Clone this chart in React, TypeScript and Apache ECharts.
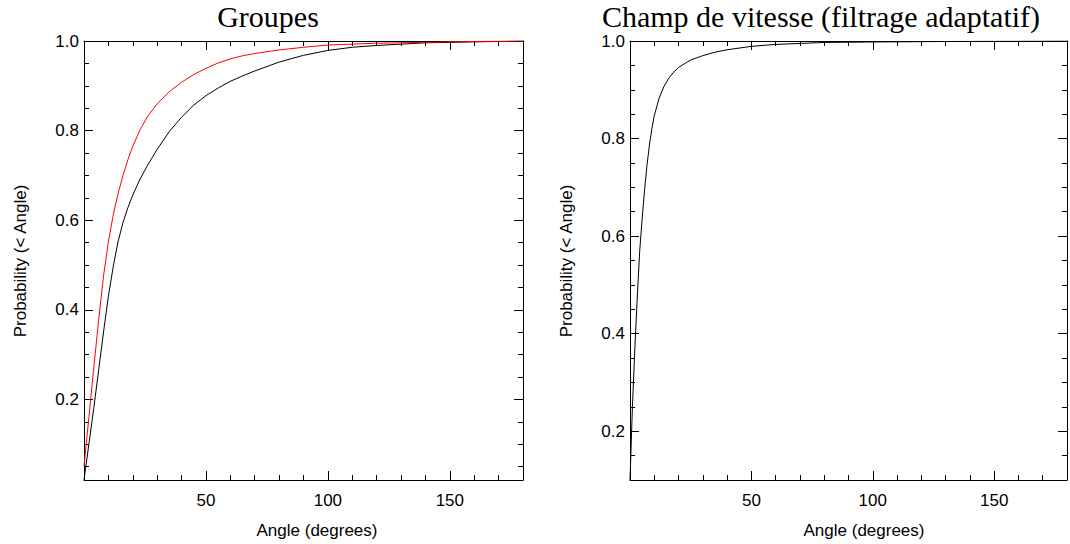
import React, { useEffect, useRef } from "react";
import * as echarts from "echarts";

// ---- data ----
const groupAngles = [0, 2, 4, 6, 8, 10, 12, 14, 16, 18, 20, 23, 26, 30, 35, 40, 45, 50, 55, 60, 65, 70, 80, 90, 100, 110, 120, 130, 140, 150, 160, 170, 180];
const groupBlack = [0.02, 0.1, 0.18, 0.265, 0.35, 0.43, 0.497, 0.553, 0.595, 0.628, 0.656, 0.692, 0.722, 0.758, 0.798, 0.83, 0.857, 0.878, 0.895, 0.91, 0.922, 0.933, 0.953, 0.968, 0.979, 0.986, 0.99, 0.993, 0.996, 0.997, 0.998, 0.999, 1.0];
const groupRed = [0.05, 0.16, 0.27, 0.377, 0.475, 0.552, 0.612, 0.66, 0.7, 0.735, 0.765, 0.802, 0.831, 0.86, 0.887, 0.908, 0.925, 0.939, 0.951, 0.96, 0.967, 0.972, 0.98, 0.986, 0.991, 0.993, 0.995, 0.996, 0.997, 0.998, 0.999, 0.9995, 1.0];

const fieldAngles = [0, 1, 2, 3, 4, 5, 6, 7, 8, 9, 10, 12, 14, 16, 18, 20, 25, 30, 35, 40, 50, 60, 80, 100, 130, 180];
const fieldValues = [0.1, 0.25, 0.37, 0.475, 0.57, 0.635, 0.695, 0.745, 0.787, 0.82, 0.847, 0.883, 0.907, 0.924, 0.936, 0.946, 0.961, 0.97, 0.977, 0.982, 0.989, 0.993, 0.997, 0.998, 0.999, 1.0];

const xLabels = [50, 100, 150];
const yMajor = [0.2, 0.4, 0.6, 0.8, 1.0];
const yMinorLeft = [0.05, 0.1, 0.15, 0.25, 0.3, 0.35, 0.45, 0.5, 0.55, 0.65, 0.7, 0.75, 0.85, 0.9, 0.95];
const yMinorRight = [0.15, 0.25, 0.3, 0.35, 0.45, 0.5, 0.55, 0.65, 0.7, 0.75, 0.85, 0.9, 0.95];

const titles = ["Groupes", "Champ de vitesse (filtrage adaptatif)"];
const xName = "Angle (degrees)";
const yName = "Probability (< Angle)";

const SANS = "Liberation Sans";
const SERIF = "Liberation Serif";

function pairs(xs: number[], ys: number[]) {
  return xs.map((x, i) => [x, ys[i]]);
}

export default function App() {
  const ref = useRef<HTMLDivElement>(null);
  useEffect(() => {
    if (!ref.current) return;
    const chart = echarts.init(ref.current, undefined, { renderer: "svg" });
    const grids = [
      { left: 84, top: 41, width: 439, height: 439, yMin: 0.02, minors: yMinorLeft },
      { left: 630, top: 41, width: 439, height: 439, yMin: 0.1, minors: yMinorRight },
    ];
    const xAxes: any[] = [];
    const yAxes: any[] = [];
    grids.forEach((g, gi) => {
      ["bottom", "top"].forEach((pos) => {
        xAxes.push({
          gridIndex: gi,
          type: "value",
          position: pos,
          min: 0,
          max: 180,
          interval: 50,
          axisLine: { show: true, onZero: false, lineStyle: { color: "#000", width: 1 } },
          axisTick: { show: true, inside: true, length: 9, lineStyle: { color: "#000", width: 1 } },
          minorTick: { show: true, splitNumber: 5, length: 5, lineStyle: { color: "#000", width: 1 } },
          splitLine: { show: false },
          minorSplitLine: { show: false },
          axisLabel: {
            show: pos === "bottom",
            margin: 12,
            fontSize: 17,
            fontFamily: SANS,
            color: "#000",
            formatter: (v: number) => (xLabels.includes(v) ? String(v) : ""),
          },
        });
      });
      ["left", "right"].forEach((pos) => {
        yAxes.push({
          gridIndex: gi,
          type: "value",
          position: pos,
          min: g.yMin,
          max: 1,
          axisLine: { show: true, onZero: false, lineStyle: { color: "#000", width: 1 } },
          axisTick: { show: true, inside: true, length: 9, customValues: yMajor, lineStyle: { color: "#000", width: 1 } },
          splitLine: { show: false },
          axisLabel: {
            show: pos === "left",
            customValues: yMajor,
            margin: 5,
            fontSize: 17,
            fontFamily: SANS,
            color: "#000",
            formatter: (v: number) => v.toFixed(1),
          },
        });
        yAxes.push({
          gridIndex: gi,
          type: "value",
          position: pos,
          offset: 0,
          min: g.yMin,
          max: 1,
          axisLine: { show: false, onZero: false },
          axisTick: { show: true, inside: true, length: 5, customValues: g.minors, lineStyle: { color: "#000", width: 1 } },
          splitLine: { show: false },
          axisLabel: { show: false },
        });
      });
    });

    const titleStyle = { font: `30px "${SERIF}"`, fill: "#000", textAlign: "center", textVerticalAlign: "middle", lineHeight: 24 };
    const nameStyle = { font: `17px "${SANS}"`, fill: "#000", textAlign: "center", textVerticalAlign: "middle" };

    const option: any = {
      animation: false,
      backgroundColor: "#fff",
      grid: grids.map((g) => ({ left: g.left, top: g.top, width: g.width, height: g.height, containLabel: false })),
      xAxis: xAxes,
      yAxis: yAxes,
      series: [
        {
          type: "line",
          xAxisIndex: 0,
          yAxisIndex: 0,
          data: pairs(groupAngles, groupBlack),
          showSymbol: false,
          lineStyle: { color: "#000", width: 1 },
          itemStyle: { color: "#000" },
          clip: true,
        },
        {
          type: "line",
          xAxisIndex: 0,
          yAxisIndex: 0,
          data: pairs(groupAngles, groupRed),
          showSymbol: false,
          lineStyle: { color: "#ff0000", width: 1 },
          itemStyle: { color: "#ff0000" },
          clip: true,
        },
        {
          type: "line",
          xAxisIndex: 2,
          yAxisIndex: 4,
          data: pairs(fieldAngles, fieldValues),
          showSymbol: false,
          lineStyle: { color: "#000", width: 1 },
          itemStyle: { color: "#000" },
          clip: true,
        },
      ],
      graphic: [
        { type: "text", x: 268, y: 16, style: { ...titleStyle, text: titles[0] } },
        { type: "text", x: 821, y: 16, style: { ...titleStyle, text: titles[1] } },
        { type: "text", x: 317, y: 530, style: { ...nameStyle, text: xName } },
        { type: "text", x: 864, y: 530, style: { ...nameStyle, text: xName } },
        { type: "text", x: 20, y: 261, rotation: Math.PI / 2, style: { ...nameStyle, text: yName } },
        { type: "text", x: 566, y: 261, rotation: Math.PI / 2, style: { ...nameStyle, text: yName } },
      ],
    };
    chart.setOption(option);
    return () => chart.dispose();
  }, []);
  return <div ref={ref} style={{ position: "absolute", left: 0, top: 0, width: 1070, height: 544 }} />;
}
